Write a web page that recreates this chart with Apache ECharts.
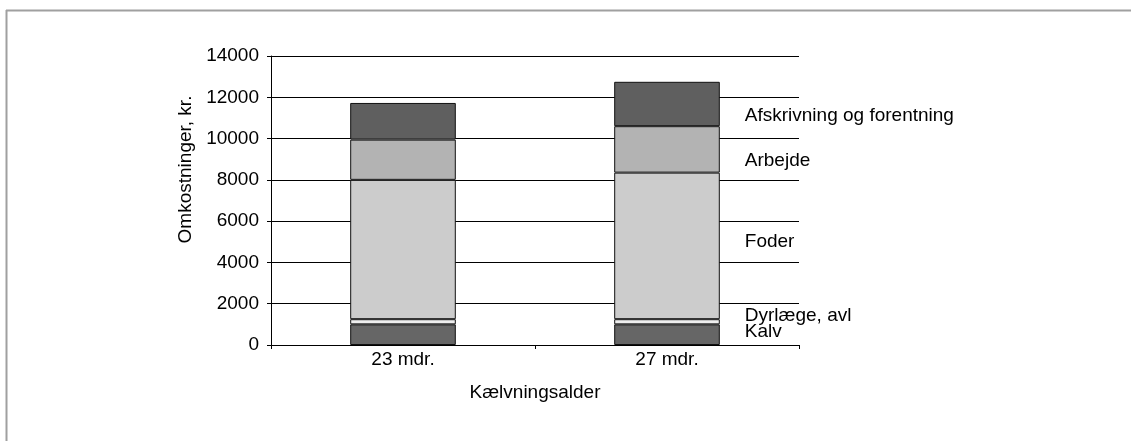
<!DOCTYPE html>
<html>
<head>
<meta charset="utf-8">
<script src="https://cdn.jsdelivr.net/npm/echarts@6/dist/echarts.min.js"></script>
<style>html,body{margin:0;padding:0;background:#fff}#c{width:1131px;height:441px}</style>
</head>
<body>
<div id="c"></div>
<script>
const categories = ['23 mdr.', '27 mdr.'];
const kalv = [1000, 1000];
const dyrlaege = [250, 250];
const foder = [6750, 7100];
const arbejde = [1950, 2250];
const afskrivning = [1775, 2150];
const yTicks = { min: 0, max: 14000, interval: 2000 };

const FONT = 'Liberation Sans';
const FS = 19;

function mk(name, arr, color, dy) {
  return {
    name: name,
    type: 'bar',
    stack: 'total',
    barWidth: '40%',
    itemStyle: { color: color, borderColor: '#111', borderWidth: 1 },
    data: arr.map((v, i) => i === arr.length - 1 ? {
      value: v,
      label: {
        show: true, position: 'right', distance: 25, offset: [0, dy],
        formatter: name, color: '#000', fontFamily: FONT, fontSize: FS
      }
    } : v)
  };
}

const chart = echarts.init(document.getElementById('c'), null, { renderer: 'canvas' });
chart.setOption({
  animation: false,
  backgroundColor: '#fff',
  textStyle: { fontFamily: FONT },
  grid: { left: 271, right: 332, top: 56, bottom: 96 },
  xAxis: {
    type: 'category',
    data: categories,
    name: 'Kælvningsalder',
    nameLocation: 'middle',
    nameGap: 38,
    nameTextStyle: { color: '#000', fontFamily: FONT, fontSize: FS },
    axisLine: { lineStyle: { color: '#000', width: 1 } },
    axisTick: { show: true, length: 4, lineStyle: { color: '#000' } },
    axisLabel: { color: '#000', fontFamily: FONT, fontSize: FS, margin: 5 },
    splitLine: { show: false }
  },
  yAxis: {
    type: 'value',
    min: yTicks.min, max: yTicks.max, interval: yTicks.interval,
    name: 'Omkostninger, kr.',
    nameLocation: 'middle',
    nameRotate: 90,
    nameGap: 76,
    nameTextStyle: { color: '#000', fontFamily: FONT, fontSize: FS, padding: [0, 0, 0, 62] },
    axisLine: { show: true, lineStyle: { color: '#000', width: 1 } },
    axisTick: { show: true, length: 4, lineStyle: { color: '#000' } },
    axisLabel: { color: '#000', fontFamily: FONT, fontSize: FS, margin: 12, formatter: v => String(v) },
    splitLine: { show: true, lineStyle: { color: '#000', width: 1 } }
  },
  series: [
    mk('Kalv', kalv, '#666666', -3),
    mk('Dyrlæge, avl', dyrlaege, '#eeeeee', -6),
    mk('Foder', foder, '#cccccc', -4),
    mk('Arbejde', arbejde, '#b3b3b3', 11),
    mk('Afskrivning og forentning', afskrivning, '#5f5f5f', 12)
  ],
  graphic: [
    { type: 'line', shape: { x1: 6, y1: 10.5, x2: 1131, y2: 10.5 }, style: { stroke: '#a0a0a0', lineWidth: 2 }, silent: true },
    { type: 'line', shape: { x1: 6.5, y1: 10, x2: 6.5, y2: 441 }, style: { stroke: '#a0a0a0', lineWidth: 2 }, silent: true }
  ]
});
</script>
</body>
</html>
